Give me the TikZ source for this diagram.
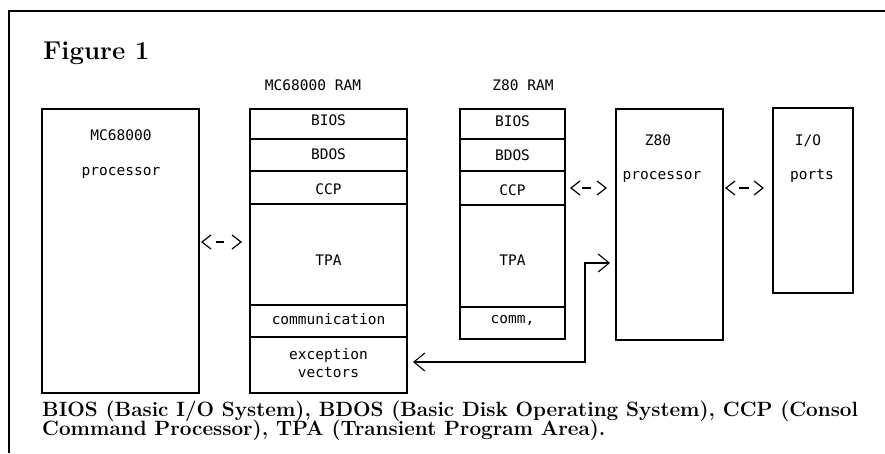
\documentclass[tikz,border=0pt]{standalone}
\usepackage{fontspec}
\newfontfamily\monof{DejaVu Sans Mono}
\usetikzlibrary{arrows.meta}
\begin{document}
\begin{tikzpicture}[x=1pt,y=-1pt,
  box/.style={draw, line width=1.2pt, inner sep=0pt, outer sep=0pt, anchor=north west},
  lbl/.style={font=\monof\fontsize{14.5}{16}\selectfont, anchor=base, inner sep=0pt},
  capt/.style={font=\bfseries\fontsize{20.7}{22}\selectfont, anchor=base west, inner sep=0pt},
  twoway/.style={line width=1.2pt,
    {Straight Barb[length=9pt,width=14pt]}-{Straight Barb[length=9pt,width=14pt]},
    dash pattern=on 0pt off 300pt},
  dashmark/.style={inner sep=0pt, outer sep=0pt, anchor=center, pos=0.42},
  longarrow/.style={line width=1.1pt,
    {Straight Barb[length=11pt,width=18pt]}-{Straight Barb[length=11pt,width=18pt]},
    shorten <=6pt, shorten >=6pt}]
\useasboundingbox (0,0) rectangle (885,453);
% frame
\draw[line width=2.2pt] (9,453) -- (9,11) -- (885,11);
% title
\node[font=\bfseries\fontsize{25.8}{28}\selectfont, anchor=base west, inner sep=0pt] (fig) at (43,59) {Figure 1};
% MC68000 processor
\node[box, minimum width=157pt, minimum height=284pt] (p68) at (42,109) {};
\node[lbl] (p68a) at (121,140) {MC68000};
\node[lbl] (p68b) at (121,175) {processor};
% MC68000 RAM
\node[lbl] (ram68lbl) at (313,90) {MC68000 RAM};
\node[box, minimum width=157pt, minimum height=30pt] (bios68) at (250,109) {};
\node[box, minimum width=157pt, minimum height=32pt] (bdos68) at (250,139) {};
\node[box, minimum width=157pt, minimum height=33pt] (ccp68) at (250,171) {};
\node[box, minimum width=157pt, minimum height=101pt] (tpa68) at (250,204) {};
\node[box, minimum width=157pt, minimum height=32pt] (comm68) at (250,305) {};
\node[box, minimum width=157pt, minimum height=56pt] (exc68) at (250,337) {};
\node[lbl] (t1) at (328.5,125) {BIOS};
\node[lbl] (t2) at (328.5,159) {BDOS};
\node[lbl] (t3) at (328.5,194) {CCP};
\node[lbl] (t4) at (328.5,265) {TPA};
\node[lbl] (t5) at (328.5,324) {communication};
\node[lbl] (t6) at (328.5,359) {exception};
\node[lbl] (t7) at (328.5,377) {vectors};
% Z80 RAM
\node[lbl] (ramzlbl) at (523,90) {Z80 RAM};
\node[box, minimum width=105pt, minimum height=30pt] (biosz) at (460,109) {};
\node[box, minimum width=105pt, minimum height=32pt] (bdosz) at (460,139) {};
\node[box, minimum width=105pt, minimum height=34pt] (ccpz) at (460,171) {};
\node[box, minimum width=105pt, minimum height=102pt] (tpaz) at (460,205) {};
\node[box, minimum width=105pt, minimum height=32pt] (commz) at (460,307) {};
\node[lbl] (u1) at (512.5,126) {BIOS};
\node[lbl] (u2) at (512.5,160) {BDOS};
\node[lbl] (u3) at (512.5,195) {CCP};
\node[lbl] (u4) at (512.5,265) {TPA};
\node[lbl] (u5) at (512.5,323) {comm,};
% Z80 processor
\node[box, minimum width=107pt, minimum height=231pt] (z80) at (616,109) {};
\node[lbl] (z80a) at (658,145) {Z80};
\node[lbl] (z80b) at (662,179) {processor};
% I/O ports
\node[box, minimum width=80pt, minimum height=185pt] (io) at (773,108) {};
\node[lbl] (ioa) at (808,145) {I/O};
\node[lbl] (iob) at (812,179) {ports};
% connectors
\coordinate (c1) at (0,242);
\draw[twoway, shorten <=2pt, shorten >=8pt] (p68.east |- c1) -- node[dashmark] (d1) {\rule[-0.6pt]{8pt}{1.2pt}} (tpa68.west |- c1);
\draw[twoway, shorten <=5pt, shorten >=9pt] (ccpz.east) -- node[dashmark] (d2) {\rule[-0.6pt]{9pt}{1.2pt}} (z80.west |- ccpz.east);
\draw[twoway, shorten <=2pt, shorten >=9pt] (z80.east |- ccpz.east) -- node[dashmark] (d3) {\rule[-0.6pt]{10pt}{1.2pt}} (io.west |- ccpz.east);
\coordinate (bend) at (585,263);
\coordinate (e1) at (0,362);
\draw[longarrow] (exc68.east |- e1) -- (bend |- e1) -- (bend) -- (z80.west |- bend);
% caption
\node[capt] (cap1) at (42,416) {BIOS (Basic I/O System), BDOS (Basic Disk Operating System), CCP (Consol};
\node[capt] (cap2) at (42,435) {Command Processor), TPA (Transient Program Area).};
\end{tikzpicture}
\end{document}
